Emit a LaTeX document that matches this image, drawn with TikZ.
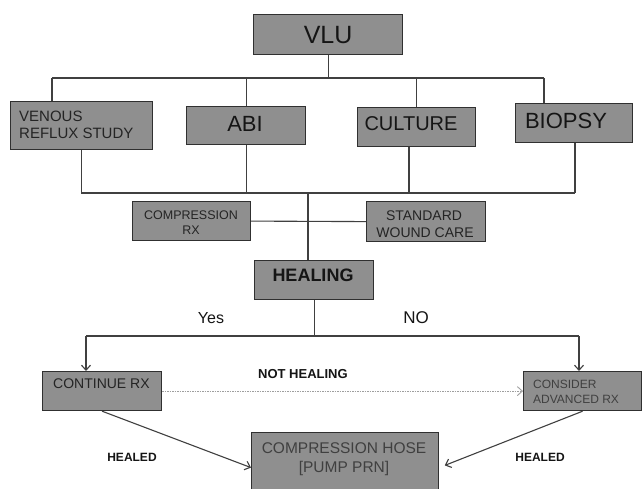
\documentclass[tikz,border=0pt]{standalone}
\usepackage{fontspec}
\setmainfont{Liberation Sans}
\usetikzlibrary{arrows.meta}
\definecolor{boxfill}{HTML}{8F8F8F}
\definecolor{edgec}{HTML}{303030}
\definecolor{lnc}{HTML}{404040}
\definecolor{txt}{HTML}{151515}
\definecolor{txtm}{HTML}{242424}
\definecolor{txtl}{HTML}{404040}
\newcommand{\fs}[1]{\fontsize{#1}{#1}\selectfont}
\begin{document}
\begin{tikzpicture}[x=1pt,y=-1pt,
  box/.style={draw=edgec, line width=1.2pt, fill=boxfill, inner sep=0pt, anchor=north west},
  lbl/.style={inner sep=0pt, text=txt},
  wire/.style={draw=lnc, line width=1.1pt},
  arr/.style={wire, -{Straight Barb[length=5pt,width=9pt]}},
  dotarr/.style={draw=gray!75, line width=0.9pt, dash pattern=on 1.5pt off 1pt, -{Straight Barb[length=5pt,width=9pt]}},
]
\useasboundingbox (0,0) rectangle (642,489);
\clip (0,0) rectangle (642,489);
\fill[white] (0,0) rectangle (642,489);

% boxes
\node[box, minimum width=149pt, minimum height=40pt] (vlu) at (253,14) {};
\node[box, minimum width=142pt, minimum height=48pt] (ven) at (10,101) {};
\node[box, minimum width=119pt, minimum height=38pt] (abi) at (186,106) {};
\node[box, minimum width=118pt, minimum height=39pt] (cult) at (357,107) {};
\node[box, minimum width=117pt, minimum height=39pt] (bio) at (515,103) {};
\node[box, minimum width=118pt, minimum height=39pt] (cmp) at (132,201) {};
\node[box, minimum width=119pt, minimum height=40pt] (swc) at (366,201) {};
\node[box, minimum width=119pt, minimum height=39pt] (heal) at (254,260) {};
\node[box, minimum width=119pt, minimum height=39pt] (cont) at (42,371) {};
\node[box, minimum width=118pt, minimum height=39pt] (cons) at (523,371) {};
\node[box, minimum width=187pt, minimum height=70pt] (hose) at (251,432) {};

% texts
\node[lbl, font=\fs{25}] (vlut) at (vlu.center) {VLU};
\node[lbl, text=txtm, font=\fs{15}, anchor=base west] (ven1) at (19,122) {VENOUS};
\node[lbl, text=txtm, font=\fs{15}, anchor=base west] (ven2) at (19,139) {REFLUX STUDY};
\node[lbl, font=\fs{22}, anchor=base] (abit) at (245,132) {ABI};
\node[lbl, font=\fs{20}, anchor=base] (cultt) at (411,131) {CULTURE};
\node[lbl, font=\fs{22}, anchor=base] (biot) at (566,129) {BIOPSY};
\node[lbl, text=txtm, font=\fs{12.5}, anchor=base] (cmp1) at (191,219) {COMPRESSION};
\node[lbl, text=txtm, font=\fs{12.5}, anchor=base] (cmp2) at (191,234) {RX};
\node[lbl, text=txtm, font=\fs{14}, anchor=base] (swc1) at (424,220) {STANDARD};
\node[lbl, text=txtm, font=\fs{14}, anchor=base] (swc2) at (425,237) {WOUND CARE};
\node[lbl, font=\bfseries\fs{18}, anchor=base] (healt) at (313,281) {HEALING};
\node[lbl, font=\fs{16}, anchor=base] (yes) at (211,323) {Yes};
\node[lbl, font=\fs{17}, anchor=base] (no) at (416,323) {NO};
\node[lbl, text=txtm, font=\fs{14}, anchor=base west] (contt) at (53,388) {CONTINUE RX};
\node[lbl, text=txtl, font=\fs{12}, anchor=base west] (cons1) at (533,388) {CONSIDER};
\node[lbl, text=txtl, font=\fs{12}, anchor=base west] (cons2) at (533,403) {ADVANCED RX};
\node[lbl, font=\bfseries\fs{13}, anchor=base west] (noth) at (258,378) {NOT HEALING};
\node[lbl, font=\bfseries\fs{12}, anchor=base] (heald1) at (132,461) {HEALED};
\node[lbl, font=\bfseries\fs{12}, anchor=base] (heald2) at (540,461) {HEALED};
\node[lbl, text=txtl, font=\fs{15.5}, anchor=base] (hose1) at (344,453) {COMPRESSION HOSE};
\node[lbl, text=txtl, font=\fs{15.5}, anchor=base] (hose2) at (344,472) {[PUMP PRN]};

% bus coordinates
\coordinate (b1L) at (52,78);
\coordinate (b1R) at (544,78);
\coordinate (b2L) at (81,193);
\coordinate (b2C) at (409,193);
\coordinate (b2R) at (575,193);
\coordinate (b2M) at (308,193);
\coordinate (b3L) at (86,336);
\coordinate (b3R) at (579,336);

% top tree
\draw[wire] (vlu.south) -- (vlu.south |- b1L);
\draw[wire] (b1L) -- (b1R);
\draw[wire] (b1L) -- (b1L |- ven.north);
\draw[wire] (abi.north |- b1L) -- (abi.north);
\draw[wire] (cult.north |- b1L) -- (cult.north);
\draw[wire] (b1R) -- (b1R |- bio.north);

% lower bus
\draw[wire] (ven.south) -- (ven.south |- b2L);
\draw[wire] (abi.south) -- (abi.south |- b2L);
\draw[wire] (b2C |- cult.south) -- (b2C);
\draw[wire] (b2R |- bio.south) -- (b2R);
\draw[wire] (b2L) -- (b2R);
\draw[wire] (b2M) -- (b2M |- heal.north);
\draw[wire] (cmp.east) -- (swc.west);

% decision
\draw[wire] (heal.south) -- (heal.south |- b3L);
\draw[wire] (b3L) -- (b3R);
\draw[arr] (b3L) -- (b3L |- cont.north);
\draw[arr] (b3R) -- (b3R |- cons.north);
\draw[dotarr] (cont.east) -- (cons.west);
\draw[arr] (cont.south) -- (hose.west);
\draw[arr, shorten >=6pt] (cons.south) -- (hose.east);
\end{tikzpicture}
\end{document}
